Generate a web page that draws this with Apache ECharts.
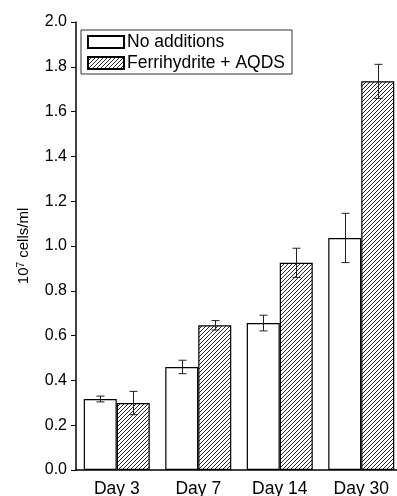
<!DOCTYPE html>
<html>
<head>
<meta charset="utf-8">
<script src="https://cdn.jsdelivr.net/npm/echarts@6/dist/echarts.min.js"></script>
<style>
html, body { margin: 0; padding: 0; background: #fff; }
#container { width: 397px; height: 496px; }
</style>
</head>
<body>
<div id="container"></div>
<script>
var days = ['Day 3', 'Day 7', 'Day 14', 'Day 30'];
var seriesNames = ['No additions', 'Ferrihydrite + AQDS'];
var noAdd = [0.317, 0.460, 0.656, 1.036];
var noAddErr = [0.013, 0.030, 0.035, 0.110];
var ferri = [0.299, 0.646, 0.925, 1.735];
var ferriErr = [0.052, 0.021, 0.065, 0.076];
var yTicks = ['0.0', '0.2', '0.4', '0.6', '0.8', '1.0', '1.2', '1.4', '1.6', '1.8', '2.0'];

var font = 'Liberation Sans';
var barW = 33;

// hatch tile
var tile = document.createElement('canvas');
tile.width = 4;
tile.height = 4;
var ctx = tile.getContext('2d');
ctx.fillStyle = '#fff';
ctx.fillRect(0, 0, 4, 4);
ctx.strokeStyle = '#2a2a2a';
ctx.lineWidth = 1;
ctx.beginPath();
ctx.moveTo(-1, 5); ctx.lineTo(5, -1);
ctx.moveTo(-1, 1); ctx.lineTo(1, -1);
ctx.moveTo(3, 5); ctx.lineTo(5, 3);
ctx.stroke();
var hatch = { image: tile, repeat: 'repeat' };

function errorSeries(vals, errs, offset) {
    var data = vals.map(function (v, i) { return [i, v - errs[i], v + errs[i]]; });
    return {
        type: 'custom',
        z: 10,
        silent: true,
        data: data,
        renderItem: function (params, api) {
            var lo = api.coord([api.value(0), api.value(1)]);
            var hi = api.coord([api.value(0), api.value(2)]);
            var x = Math.round(lo[0] + offset) + 0.5;
            var cap = 4;
            var st = { stroke: '#222', lineWidth: 1 };
            return {
                type: 'group',
                children: [
                    { type: 'line', shape: { x1: x, y1: lo[1], x2: x, y2: hi[1] }, style: st },
                    { type: 'line', shape: { x1: x - cap, y1: lo[1], x2: x + cap, y2: lo[1] }, style: st },
                    { type: 'line', shape: { x1: x - cap, y1: hi[1], x2: x + cap, y2: hi[1] }, style: st }
                ]
            };
        }
    };
}

var myChart = echarts.init(document.getElementById('container'));
var option = {
    animation: false,
    textStyle: { fontFamily: font },
    grid: { left: 76, top: 22, width: 326, bottom: 26, outerBoundsMode: 'none', containLabel: false },
    legend: {
        data: seriesNames,
        left: 81,
        top: 30,
        orient: 'vertical',
        itemWidth: 36,
        itemHeight: 12,
        itemGap: 3,
        padding: [3, 7, 2, 6],
        borderColor: '#333',
        borderWidth: 1,
        icon: 'rect',
        textStyle: { fontSize: 17.5, color: '#000', fontFamily: font, padding: [0, 0, 0, -2] }
    },
    xAxis: {
        type: 'category',
        data: days,
        axisLine: { lineStyle: { color: '#000', width: 1.5 } },
        axisTick: { alignWithLabel: true, length: 5, lineStyle: { color: '#000' } },
        axisLabel: { fontSize: 17.5, color: '#000', margin: 10 }
    },
    yAxis: {
        type: 'value',
        min: 0,
        max: 2,
        interval: 0.2,
        name: '{a|10}{s|7}{a| cells/ml}',
        nameLocation: 'middle',
        nameGap: 44,
        nameTextStyle: {
            rich: {
                a: { fontSize: 15, color: '#000', fontFamily: font },
                s: { fontSize: 10, color: '#000', fontFamily: font, verticalAlign: 'top', padding: [0, 0, 6, 0] }
            }
        },
        splitLine: { show: false },
        axisLine: { show: true, lineStyle: { color: '#000', width: 1.5 } },
        axisTick: { show: true, length: 5, lineStyle: { color: '#000' } },
        axisLabel: {
            fontSize: 16,
            color: '#000',
            margin: 9,
            formatter: function (v) { return yTicks[Math.round(v / 0.2)]; }
        }
    },
    series: [
        {
            name: seriesNames[0],
            type: 'bar',
            data: noAdd,
            barWidth: barW,
            barGap: 0,
            itemStyle: { color: '#fff', borderColor: '#000', borderWidth: 1.2 }
        },
        {
            name: seriesNames[1],
            type: 'bar',
            data: ferri,
            barWidth: barW,
            barGap: 0,
            itemStyle: { color: hatch, borderColor: '#000', borderWidth: 1.2 }
        },
        errorSeries(noAdd, noAddErr, -barW / 2),
        errorSeries(ferri, ferriErr, barW / 2)
    ]
};
myChart.setOption(option);
</script>
</body>
</html>
